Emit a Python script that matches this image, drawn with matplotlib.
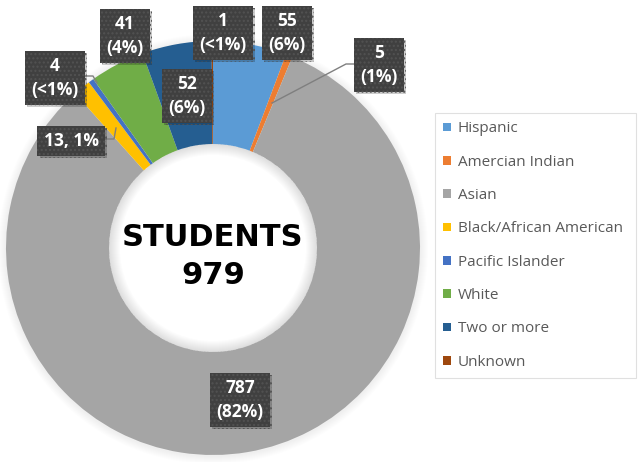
"""
Donut chart of student enrolment by ethnicity
"""

import matplotlib.pyplot as plt
import matplotlib.patheffects as pe
from matplotlib.patches import Circle, Wedge

W, H = 642, 462

# data
groups = ['Hispanic', 'Amercian Indian', 'Asian', 'Black/African American',
          'Pacific Islander', 'White', 'Two or more', 'Unknown']
counts = [55, 5, 787, 13, 4, 41, 52, 1]
pct_labels = ['6%', '1%', '82%', '1%', '<1%', '4%', '6%', '<1%']
inline_groups = ['Black/African American']
colors = ['#5B9BD5', '#ED7D31', '#A5A5A5', '#FFC000',
          '#4472C4', '#70AD47', '#255E91', '#9E480E']
center_title = 'STUDENTS'
center_total = '979'

# layout, in pixels measured from the top-left corner
cx, cy, R = 213, 248, 207
hole = 104
label_pos = [(287, 33), (379, 65), (240, 400), (71, 141),
             (55, 78), (125, 36), (187, 96), (223, 33)]
leaders = {
    'Amercian Indian': [(355, 64), (346, 64), (272, 103)],
    'Pacific Islander': [(84, 76), (93, 76), (97, 83)],
    'Black/African American': [(103, 139), (114, 139), (116, 128)],
}


def flip(x, y):
    return x, H - y


fig = plt.figure(figsize=(W / 100, H / 100), dpi=100)
ax = fig.add_axes([0, 0, 1, 1])

c = flip(cx, cy)

# soft shadow around the ring
for k in range(1, 9):
    ax.add_patch(Circle((c[0], c[1] - 1), R + k, fc='black', ec='none',
                        alpha=0.009, zorder=0))
# keep the hole white
ax.add_patch(Circle(c, hole + 2, fc='white', ec='none', zorder=0.5))

wedges, _ = ax.pie(counts, colors=colors, startangle=90, counterclock=False,
                   center=c, radius=R, wedgeprops=dict(width=R - hole, linewidth=0))

# inner shadow inside the hole
for k in range(1, 12):
    ax.add_patch(Wedge(c, hole, 0, 360, width=k, fc='black', ec='none',
                       alpha=0.01, zorder=3))

# leader lines
for name, pts in leaders.items():
    xs = [p[0] for p in pts]
    ys = [H - p[1] for p in pts]
    ax.plot(xs, ys, color='#7F7F7F', lw=1, zorder=4)

# data labels
for name, n, p, pos in zip(groups, counts, pct_labels, label_pos):
    if name in inline_groups:
        s = f'{n}, {p}'
    else:
        s = f'{n}\n({p})'
    t = ax.text(*flip(*pos), s, ha='center', va='center', ma='center',
                color='white', fontsize=12.5, fontweight='bold',
                family='Open Sans', linespacing=1.4, zorder=6,
                bbox=dict(boxstyle='square,pad=0.35', fc='#404040',
                          ec='#525252', lw=0, hatch='....'))
    t.get_bbox_patch().set_path_effects(
        [pe.withSimplePatchShadow(offset=(1.5, -1.5), shadow_rgbFace='black', alpha=0.2),
         pe.Normal()])

# center text
ax.text(*flip(cx, 238), center_title, ha='center', va='center',
        fontsize=22, fontweight='bold', family='DejaVu Sans', color='black', zorder=6)
ax.text(*flip(cx, 276), center_total, ha='center', va='center',
        fontsize=22, fontweight='bold', family='DejaVu Sans', color='black', zorder=6)

ax.set_xlim(0, W)
ax.set_ylim(0, H)
ax.set_aspect('equal')
ax.axis('off')

leg = ax.legend(wedges, groups, loc='upper left',
                bbox_to_anchor=(435 / W, 1 - 113 / H, (636 - 435) / W, 0),
                mode='expand', borderaxespad=0, frameon=True, fancybox=False,
                edgecolor='#D9D9D9', labelspacing=1.2,
                handlelength=0.5, handleheight=0.5, handletextpad=0.45,
                borderpad=0.55, prop={'family': 'Open Sans', 'size': 11})
leg.get_frame().set_linewidth(0.8)
for txt in leg.get_texts():
    txt.set_color('#595959')

plt.savefig('out.png', dpi=100)
plt.close()
